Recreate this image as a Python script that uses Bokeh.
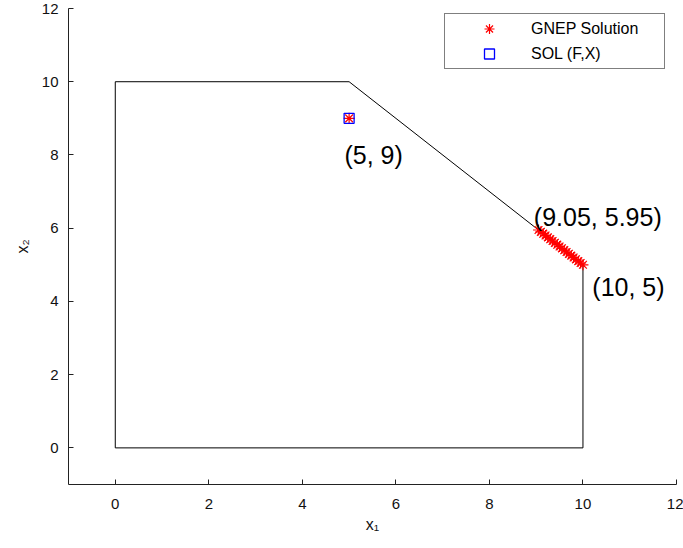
from bokeh.plotting import figure
from bokeh.models import FixedTicker, Legend, LegendItem, ColumnDataSource
from bokeh.core.properties import value
from bokeh.embed import file_html
from bokeh.resources import INLINE

# Feasible region boundary
region_x = [0, 0, 5, 10, 10, 0]
region_y = [0, 10, 10, 5, 0, 0]

# GNEP solutions
gnep_x = [5.0, 9.05, 9.10, 9.15, 9.20, 9.25, 9.30, 9.35, 9.40, 9.45, 9.50,
          9.55, 9.60, 9.65, 9.70, 9.75, 9.80, 9.85, 9.90, 9.95, 10.0]
gnep_y = [9.0, 5.95, 5.90, 5.85, 5.80, 5.75, 5.70, 5.65, 5.60, 5.55, 5.50,
          5.45, 5.40, 5.35, 5.30, 5.25, 5.20, 5.15, 5.10, 5.05, 5.0]

# SOL (F,X)
sol_x = [5.0]
sol_y = [9.0]

# Annotations
ann_text = ["(5, 9)", "(9.05, 5.95)", "(10, 5)"]
ann_x = [4.9, 8.95, 10.2]
ann_y = [8.0, 6.3, 4.4]

x_ticks = [0, 2, 4, 6, 8, 10, 12]
y_ticks = [0, 2, 4, 6, 8, 10, 12]

FONT = "Liberation Sans"

p = figure(width=683, height=548, x_range=(-1, 12), y_range=(-1, 12),
           output_backend="svg", toolbar_location=None,
           min_border_left=68, min_border_right=7, min_border_top=8, min_border_bottom=64)
p.outline_line_color = None
p.xgrid.visible = False
p.ygrid.visible = False

for ax, ticks in ((p.xaxis[0], x_ticks), (p.yaxis[0], y_ticks)):
    ax.ticker = FixedTicker(ticks=ticks)
    ax.major_tick_in = 5
    ax.major_tick_out = 0
    ax.minor_tick_line_color = None
    ax.axis_line_color = "#222222"
    ax.major_tick_line_color = "#222222"
    ax.major_label_text_font = FONT
    ax.major_label_text_font_size = "15px"
    ax.major_label_text_color = "#111111"
    ax.axis_label_text_font = FONT
    ax.axis_label_text_font_size = "16px"
    ax.axis_label_text_font_style = "normal"
    ax.axis_label_text_color = "#111111"

p.xaxis[0].axis_label = "x\u2081"
p.yaxis[0].axis_label = "x\u2082"
p.xaxis[0].major_label_standoff = 14
p.yaxis[0].major_label_standoff = 10
p.xaxis[0].axis_label_standoff = 4
p.yaxis[0].axis_label_standoff = 8

p.line(region_x, region_y, line_color="black", line_width=1)

r_gnep = p.scatter(gnep_x, gnep_y, marker="asterisk", size=11,
                   line_color="red", line_width=1.2)
r_sol = p.scatter(sol_x, sol_y, marker="square", size=10, fill_color=None,
                  line_color="blue", line_width=1.3)

src = ColumnDataSource(dict(x=ann_x, y=ann_y, t=ann_text))
p.text("x", "y", text="t", source=src, text_font=value(FONT),
       text_font_size="25px", text_align="left", text_baseline="middle",
       text_color="black")

legend = Legend(items=[LegendItem(label="GNEP Solution", renderers=[r_gnep]),
                       LegendItem(label="SOL (F,X)", renderers=[r_sol])],
                location=(376, 415))
legend.padding = 2
legend.spacing = 0
legend.margin = 0
legend.glyph_width = 84
legend.glyph_height = 25
legend.label_height = 25
legend.label_width = 131
legend.label_standoff = 0
legend.label_text_font = FONT
legend.label_text_font_size = "16px"
legend.label_text_color = "black"
legend.border_line_color = "black"
legend.border_line_width = 1
legend.background_fill_color = "white"
legend.background_fill_alpha = 1
p.add_layout(legend, "center")

open("out.html", "w").write(file_html(p, INLINE))
